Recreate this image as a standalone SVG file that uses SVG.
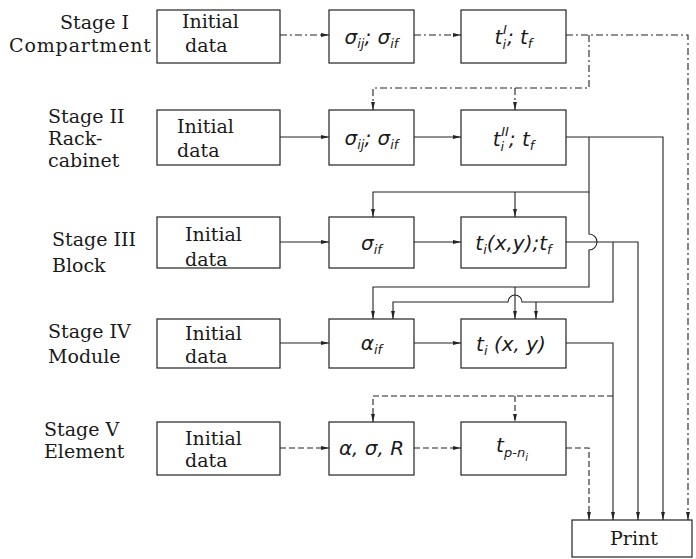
<svg xmlns="http://www.w3.org/2000/svg" width="696" height="559" viewBox="0 0 696 559">
<style>
.bg{fill:#ffffff}
.box{fill:#ffffff;stroke:#222;stroke-width:1.2}
.lbl{font-family:"DejaVu Serif","Liberation Serif",serif;font-size:19px;fill:#1a1a1a}
.m{font-family:"DejaVu Sans","Liberation Sans",sans-serif;font-style:italic;font-size:20px;fill:#1a1a1a}
.s{font-size:13px}
.ss{font-size:10px}
.ln{fill:none;stroke:#222;stroke-width:1.1}
.dd{stroke-dasharray:7 3 2 3}
.da{stroke-dasharray:6 3}
.pr{font-family:"DejaVu Serif","Liberation Serif",serif;font-size:19px;fill:#1a1a1a}
</style>
<defs>
<marker id="ah" viewBox="0 0 10 6" refX="10" refY="3" markerWidth="8" markerHeight="4.8" orient="auto" markerUnits="userSpaceOnUse">
<path d="M0,0.6 L10,3 L0,5.4 z" fill="#222"/>
</marker>
</defs>
<rect class="bg" x="0" y="0" width="696" height="559"/>

<g id="stage-labels">
<text class="lbl" x="60" y="29">Stage I</text>
<text class="lbl" x="9" y="52" textLength="142">Compartment</text>
<text class="lbl" x="48" y="123">Stage II</text>
<text class="lbl" x="48" y="145">Rack-</text>
<text class="lbl" x="48" y="167">cabinet</text>
<text class="lbl" x="52" y="246">Stage III</text>
<text class="lbl" x="52" y="272">Block</text>
<text class="lbl" x="48" y="338">Stage IV</text>
<text class="lbl" x="48" y="363">Module</text>
<text class="lbl" x="44" y="436">Stage V</text>
<text class="lbl" x="44" y="458">Element</text>
</g>

<g id="connectors">
<path class="ln dd" d="M280,35 H329" marker-end="url(#ah)"/>
<path class="ln dd" d="M414,35 H461" marker-end="url(#ah)"/>
<path class="ln" d="M280,137 H329" marker-end="url(#ah)"/>
<path class="ln" d="M414,137 H461" marker-end="url(#ah)"/>
<path class="ln" d="M280,242 H329" marker-end="url(#ah)"/>
<path class="ln" d="M414,242 H461" marker-end="url(#ah)"/>
<path class="ln" d="M280,343 H329" marker-end="url(#ah)"/>
<path class="ln" d="M414,343 H461" marker-end="url(#ah)"/>
<path class="ln da" d="M280,448 H329" marker-end="url(#ah)"/>
<path class="ln da" d="M414,448 H461" marker-end="url(#ah)"/>
<path class="ln dd" d="M566,35 H688 V520" marker-end="url(#ah)"/>
<path class="ln dd" d="M589,35 V88 H373 V110" marker-end="url(#ah)"/>
<path class="ln dd" d="M515,88 V110" marker-end="url(#ah)"/>
<path class="ln" d="M566,137 H663 V520" marker-end="url(#ah)"/>
<path class="ln" d="M589,137 V192 H373 V217" marker-end="url(#ah)"/>
<path class="ln" d="M515,192 V217" marker-end="url(#ah)"/>
<path class="ln" d="M589,192 V234 A8,8 0 0 1 589,250 V287 H373 V319" marker-end="url(#ah)"/>
<path class="ln" d="M515,287 V319" marker-end="url(#ah)"/>
<path class="ln" d="M566,242 H638 V520" marker-end="url(#ah)"/>
<path class="ln" d="M613,242 V302 H522 A7,7 0 0 0 508,302 H393 V319" marker-end="url(#ah)"/>
<path class="ln" d="M536,302 V319" marker-end="url(#ah)"/>
<path class="ln" d="M566,343 H613 V520" marker-end="url(#ah)"/>
<path class="ln da" d="M613,396 H373 V422" marker-end="url(#ah)"/>
<path class="ln da" d="M515,396 V422" marker-end="url(#ah)"/>
<path class="ln da" d="M566,448 H589 V520" marker-end="url(#ah)"/>
</g>

<g id="init-1"><rect class="box" x="157" y="10" width="123" height="53"/>
<text class="lbl" x="182" y="28">Initial</text><text class="lbl" x="185" y="52">data</text></g>
<g id="sigma-1"><rect class="box" x="329" y="10" width="85" height="53"/>
<text class="m" x="371.5" y="44" text-anchor="middle">σ<tspan class="s" dy="4">ij</tspan><tspan dy="-4">; σ</tspan><tspan class="s" dy="4">if</tspan></text></g>
<g id="t-1"><rect class="box" x="461" y="10" width="105" height="53"/>
<text class="m" x="513.5" y="44" text-anchor="middle">t<tspan class="s" dy="5">i</tspan><tspan class="s" dx="-3" dy="-15">I</tspan><tspan dy="10">;  t</tspan><tspan class="s" dy="4">f</tspan></text></g>

<g id="init-2"><rect class="box" x="157" y="110" width="123" height="55"/>
<text class="lbl" x="177" y="133">Initial</text><text class="lbl" x="177" y="157">data</text></g>
<g id="sigma-2"><rect class="box" x="329" y="110" width="85" height="55"/>
<text class="m" x="371.5" y="145" text-anchor="middle">σ<tspan class="s" dy="4">ij</tspan><tspan dy="-4">; σ</tspan><tspan class="s" dy="4">if</tspan></text></g>
<g id="t-2"><rect class="box" x="461" y="110" width="105" height="55"/>
<text class="m" x="513.5" y="146" text-anchor="middle">t<tspan class="s" dy="5">i</tspan><tspan class="s" dx="-3" dy="-15">II</tspan><tspan dy="10">;  t</tspan><tspan class="s" dy="4">f</tspan></text></g>

<g id="init-3"><rect class="box" x="157" y="217" width="123" height="51"/>
<text class="lbl" x="185" y="241">Initial</text><text class="lbl" x="185" y="266">data</text></g>
<g id="sigma-3"><rect class="box" x="329" y="217" width="85" height="51"/>
<text class="m" x="371.5" y="250" text-anchor="middle">σ<tspan class="s" dy="4">if</tspan></text></g>
<g id="t-3"><rect class="box" x="461" y="217" width="105" height="51"/>
<text class="m" x="513.5" y="250" text-anchor="middle">t<tspan class="s" dy="4">i</tspan><tspan dy="-4">(x,y);t</tspan><tspan class="s" dy="4">f</tspan></text></g>

<g id="init-4"><rect class="box" x="157" y="319" width="123" height="49"/>
<text class="lbl" x="185" y="340" font-size="18">Initial</text><text class="lbl" x="185" y="363" font-size="18">data</text></g>
<g id="alpha-4"><rect class="box" x="329" y="319" width="85" height="49"/>
<text class="m" x="371.5" y="350" text-anchor="middle">α<tspan class="s" dy="4">if</tspan></text></g>
<g id="t-4"><rect class="box" x="461" y="319" width="105" height="49"/>
<text class="m" x="511" y="351" text-anchor="middle">t<tspan class="s" dy="4">i</tspan><tspan dy="-4"> (x, y)</tspan></text></g>

<g id="init-5"><rect class="box" x="157" y="422" width="123" height="53"/>
<text class="lbl" x="185" y="445">Initial</text><text class="lbl" x="185" y="467">data</text></g>
<g id="alpha-5"><rect class="box" x="329" y="422" width="85" height="53"/>
<text class="m" x="371.5" y="455" text-anchor="middle">α, σ, R</text></g>
<g id="t-5"><rect class="box" x="461" y="422" width="105" height="53"/>
<text class="m" x="512" y="452" text-anchor="middle">t<tspan class="s" dy="5">p-n</tspan><tspan class="ss" dy="4">i</tspan></text></g>

<g id="print"><rect class="box" x="572" y="520" width="120" height="37"/>
<text class="pr" x="634" y="545" text-anchor="middle">Print</text></g>
</svg>
